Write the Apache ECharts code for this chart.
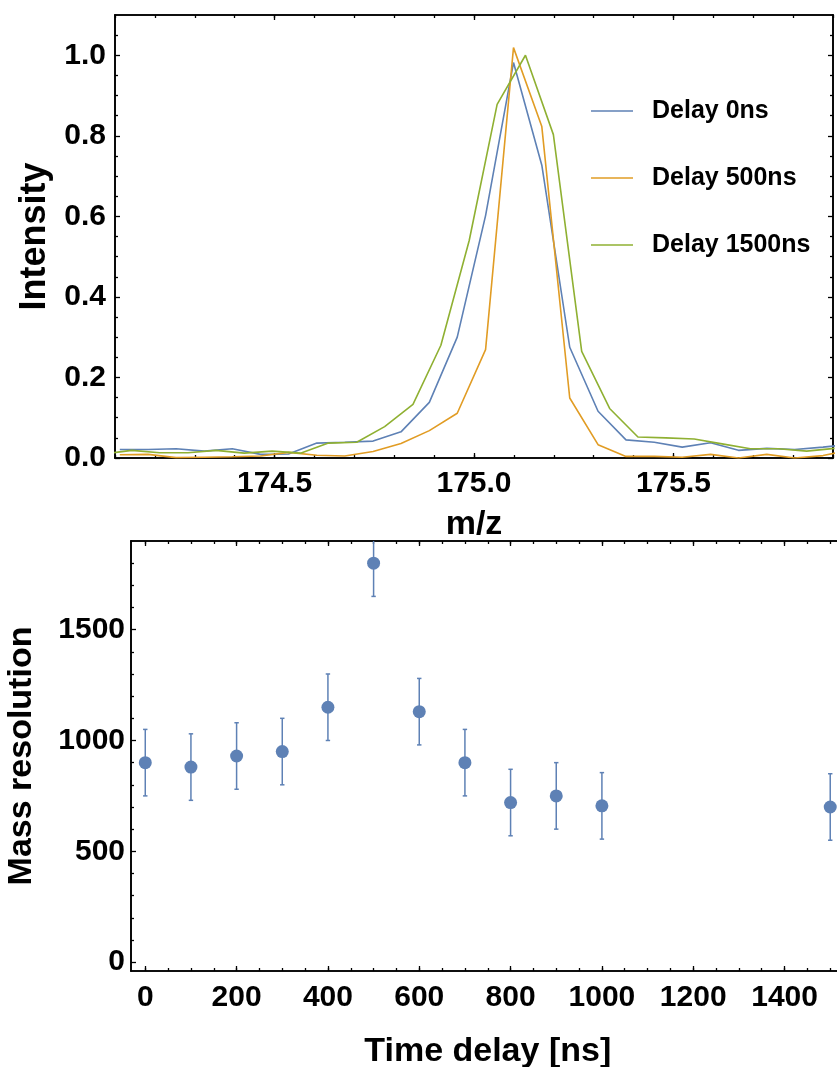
<!DOCTYPE html>
<html><head><meta charset="utf-8">
<script src="https://cdn.jsdelivr.net/npm/echarts@6/dist/echarts.min.js"></script>
<style>html,body{margin:0;padding:0;background:#fff}#c{width:837px;height:1067px}</style>
</head><body><div id="c"></div>
<script>
const FONT = '"Liberation Sans", Arial, sans-serif';
const seriesNames = ['Delay 0ns', 'Delay 500ns', 'Delay 1500ns'];
const seriesColors = ['#5E81B5', '#E19C24', '#8FB032'];

// m/z sampling of the 0 ns and 500 ns spectra
const mzA = [174.112, 174.183, 174.253, 174.324, 174.394, 174.465, 174.535, 174.606, 174.676,
  174.747, 174.817, 174.888, 174.958, 175.029, 175.099, 175.170, 175.240, 175.311, 175.381,
  175.452, 175.522, 175.593, 175.663, 175.734, 175.804, 175.875, 175.945];
const intensity0ns = [0.021, 0.021, 0.023, 0.017, 0.023, 0.009, 0.010, 0.037, 0.039, 0.042,
  0.065, 0.138, 0.300, 0.602, 0.982, 0.727, 0.275, 0.116, 0.045, 0.039, 0.027, 0.038, 0.019,
  0.024, 0.021, 0.027, 0.034];
const intensity500ns = [0.008, 0.009, 0.001, 0.002, 0.003, 0.005, 0.014, 0.007, 0.005, 0.016,
  0.036, 0.068, 0.111, 0.269, 1.019, 0.823, 0.149, 0.033, 0.004, 0.004, 0.002, 0.009, 0.000,
  0.009, 0.000, 0.006, 0.020];
// m/z sampling of the 1500 ns spectrum
const mzB = [174.071, 174.142, 174.212, 174.283, 174.353, 174.424, 174.494, 174.565, 174.635,
  174.706, 174.776, 174.847, 174.917, 174.988, 175.058, 175.129, 175.199, 175.270, 175.340,
  175.411, 175.481, 175.552, 175.622, 175.693, 175.763, 175.834, 175.904];
const intensity1500ns = [0.010, 0.019, 0.013, 0.013, 0.019, 0.012, 0.017, 0.012, 0.037, 0.039,
  0.078, 0.133, 0.280, 0.540, 0.878, 1.000, 0.803, 0.265, 0.123, 0.052, 0.050, 0.047, 0.035,
  0.023, 0.023, 0.017, 0.024];

const mzMajorTicks = [174.5, 175.0, 175.5];
const mzMinorTicks = [174.1, 174.2, 174.3, 174.4, 174.5, 174.6, 174.7, 174.8, 174.9, 175.0,
  175.1, 175.2, 175.3, 175.4, 175.5, 175.6, 175.7, 175.8, 175.9];
const intensityMajorTicks = [0, 0.2, 0.4, 0.6, 0.8, 1.0];
const intensityMinorTicks = [0.05, 0.1, 0.15, 0.25, 0.3, 0.35, 0.45, 0.5, 0.55, 0.65, 0.7, 0.75,
  0.85, 0.9, 0.95, 1.05];

// Bottom panel
const delays = [0, 100, 200, 300, 400, 500, 600, 700, 800, 900, 1000, 1500];
const resolution = [900, 880, 930, 950, 1150, 1800, 1130, 900, 720, 750, 705, 700];
const resolutionErr = [150, 150, 150, 150, 150, 150, 150, 150, 150, 150, 150, 150];
const delayMajorTicks = [0, 200, 400, 600, 800, 1000, 1200, 1400];
const delayMinorTicks = [0, 50, 100, 150, 200, 250, 300, 350, 400, 450, 500, 550, 600, 650, 700,
  750, 800, 850, 900, 950, 1000, 1050, 1100, 1150, 1200, 1250, 1300, 1350, 1400, 1450, 1500];
const resolutionMajorTicks = [0, 500, 1000, 1500];
const resolutionMinorTicks = [100, 200, 300, 400, 600, 700, 800, 900, 1100, 1200, 1300, 1400,
  1600, 1700, 1800];

const labelStyle = { fontFamily: FONT, fontWeight: 'bold', fontSize: 30, color: '#000' };
const nameStyle = { fontFamily: FONT, fontWeight: 'bold', fontSize: 34, color: '#000' };

function ax(gridIndex, position, min, max, ticks, len, opts) {
  opts = opts || {};
  const a = {
    type: 'value', gridIndex, position, min, max,
    axisLine: { show: true, onZero: false, lineStyle: { color: '#000', width: 1.6 } },
    axisTick: { show: true, inside: true, length: len, customValues: ticks,
      lineStyle: { color: '#000', width: 1.3 } },
    axisLabel: { show: !!opts.labels, customValues: ticks, margin: opts.margin || 8,
      formatter: opts.formatter, ...labelStyle },
    splitLine: { show: false }
  };
  if (opts.name) {
    a.name = opts.name; a.nameLocation = 'middle'; a.nameGap = opts.nameGap;
    a.nameTextStyle = Object.assign({}, nameStyle, opts.nameSize ? { fontSize: opts.nameSize } : {});
  }
  return a;
}

const xAxes = [
  ax(0, 'bottom', 174.1, 175.9, mzMajorTicks, 5, { labels: true, formatter: v => v.toFixed(1), name: 'm/z', nameGap: 50, margin: 11 }),
  ax(0, 'bottom', 174.1, 175.9, mzMinorTicks, 3),
  ax(0, 'top', 174.1, 175.9, mzMajorTicks, 5),
  ax(0, 'top', 174.1, 175.9, mzMinorTicks, 3),
  ax(1, 'bottom', -31.25, 1531.25, delayMajorTicks, 5, { labels: true, formatter: v => String(v), name: 'Time delay [ns]', nameGap: 64, margin: 12 }),
  ax(1, 'bottom', -31.25, 1531.25, delayMinorTicks, 3),
  ax(1, 'top', -31.25, 1531.25, delayMajorTicks, 5),
  ax(1, 'top', -31.25, 1531.25, delayMinorTicks, 3)
];
const yAxes = [
  ax(0, 'left', 0, 1.1, intensityMajorTicks, 5, { labels: true, formatter: v => v.toFixed(1), name: 'Intensity', nameGap: 59, margin: 9, nameSize: 36 }),
  ax(0, 'left', 0, 1.1, intensityMinorTicks, 3),
  ax(0, 'right', 0, 1.1, intensityMajorTicks, 5),
  ax(0, 'right', 0, 1.1, intensityMinorTicks, 3),
  ax(1, 'left', -40, 1900, resolutionMajorTicks, 5, { labels: true, formatter: v => String(v), name: 'Mass resolution', nameGap: 92, margin: 6 }),
  ax(1, 'left', -40, 1900, resolutionMinorTicks, 3)
];

function zip(a, b) { return a.map((v, i) => [v, b[i]]); }

const lineSeries = [
  [mzA, intensity0ns], [mzA, intensity500ns], [mzB, intensity1500ns]
].map((p, i) => ({
  name: seriesNames[i], type: 'line', xAxisIndex: 0, yAxisIndex: 0,
  data: zip(p[0], p[1]), symbol: 'none', clip: true,
  lineStyle: { color: seriesColors[i], width: 1.6 }, itemStyle: { color: seriesColors[i] }
}));

const errData = delays.map((d, i) => [d, resolution[i], resolutionErr[i]]);

const chart = echarts.init(document.getElementById('c'), null, { renderer: 'canvas' });
chart.setOption({
  animation: false,
  backgroundColor: '#fff',
  grid: [
    { left: 115, top: 15, width: 718, height: 443, outerBoundsMode: 'none', containLabel: false },
    { left: 131, top: 541, width: 713.5, height: 430, outerBoundsMode: 'none', containLabel: false }
  ],
  legend: {
    data: seriesNames, orient: 'vertical', left: 591, top: 98, padding: 0,
    icon: 'rect', itemWidth: 42, itemHeight: 1.5, itemGap: 41,
    textStyle: { fontFamily: FONT, fontWeight: 'bold', fontSize: 25, color: '#000', padding: [0, 0, 0, 14], lineHeight: 26 }
  },
  xAxis: xAxes,
  yAxis: yAxes,
  series: lineSeries.concat([
    {
      type: 'custom', xAxisIndex: 4, yAxisIndex: 4, clip: true,
      data: errData,
      encode: { x: 0, y: 1 },
      renderItem: function (params, api) {
        const x = api.value(0), y = api.value(1), e = api.value(2);
        const top = api.coord([x, y + e]);
        const bot = api.coord([x, y - e]);
        const cw = 2.2;
        const style = { stroke: '#5E81B5', lineWidth: 1.5, fill: null };
        return { type: 'group', children: [
          { type: 'line', shape: { x1: top[0], y1: top[1], x2: bot[0], y2: bot[1] }, style },
          { type: 'line', shape: { x1: top[0] - cw, y1: top[1], x2: top[0] + cw, y2: top[1] }, style },
          { type: 'line', shape: { x1: bot[0] - cw, y1: bot[1], x2: bot[0] + cw, y2: bot[1] }, style }
        ] };
      }
    },
    {
      type: 'scatter', xAxisIndex: 4, yAxisIndex: 4,
      data: zip(delays, resolution), symbol: 'circle', symbolSize: 13,
      itemStyle: { color: '#5E81B5', opacity: 1 }
    }
  ])
});
</script></body></html>
